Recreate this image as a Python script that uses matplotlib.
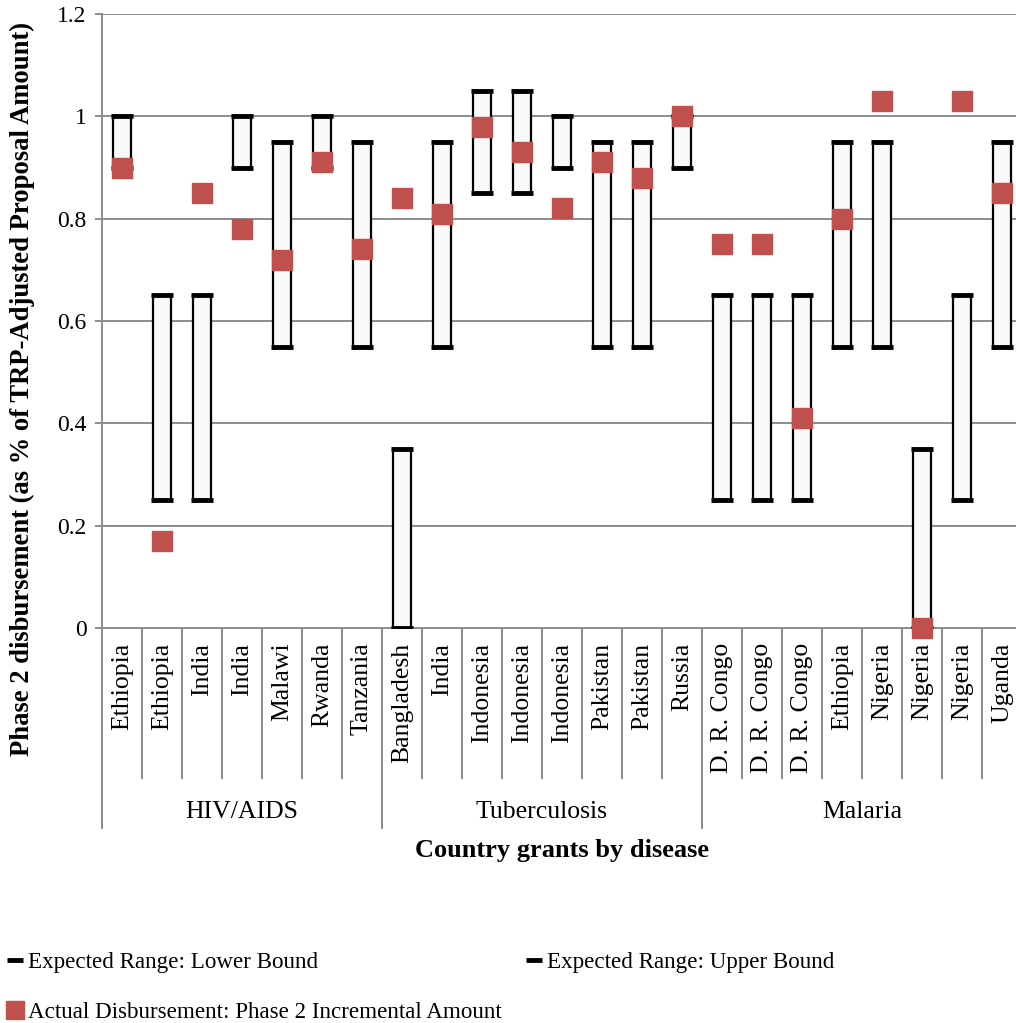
import matplotlib.pyplot as plt
from matplotlib.lines import Line2D
import numpy as np

plt.rcParams['font.family'] = ['Liberation Serif', 'DejaVu Serif']

diseases = ['HIV/AIDS', 'Tuberculosis', 'Malaria']
group_sizes = [7, 8, 8]
countries = ['Ethiopia', 'Ethiopia', 'India', 'India', 'Malawi', 'Rwanda', 'Tanzania',
             'Bangladesh', 'India', 'Indonesia', 'Indonesia', 'Indonesia', 'Pakistan', 'Pakistan', 'Russia',
             'D. R. Congo', 'D. R. Congo', 'D. R. Congo', 'Ethiopia', 'Nigeria', 'Nigeria', 'Nigeria', 'Uganda']
lower = [0.90, 0.25, 0.25, 0.90, 0.55, 0.90, 0.55,
         0.00, 0.55, 0.85, 0.85, 0.90, 0.55, 0.55, 0.90,
         0.25, 0.25, 0.25, 0.55, 0.55, 0.00, 0.25, 0.55]
upper = [1.00, 0.65, 0.65, 1.00, 0.95, 1.00, 0.95,
         0.35, 0.95, 1.05, 1.05, 1.00, 0.95, 0.95, 1.00,
         0.65, 0.65, 0.65, 0.95, 0.95, 0.35, 0.65, 0.95]
actual = [0.90, 0.17, 0.85, 0.78, 0.72, 0.91, 0.74,
          0.84, 0.81, 0.98, 0.93, 0.82, 0.91, 0.88, 1.00,
          0.75, 0.75, 0.41, 0.80, 1.03, 0.00, 1.03, 0.85]
yticks = [0, 0.2, 0.4, 0.6, 0.8, 1.0, 1.2]
ytick_labels = ['0', '0.2', '0.4', '0.6', '0.8', '1', '1.2']

W, H = 1016, 1023
fig = plt.figure(figsize=(W / 100, H / 100), dpi=100)
ax = fig.add_axes([102 / W, 1 - 628 / H, 920 / W, 614 / H])

x = np.arange(len(countries))
lo = np.array(lower)
hi = np.array(upper)
grid_col = '#8c8c8c'
red = '#c0504d'

ax.bar(x, hi - lo, bottom=lo, width=0.45, color='#f9f9f9', edgecolor='black',
       linewidth=1.6, zorder=3)
ax.plot(x, lower, linestyle='none', marker='_', color='black', ms=16, mew=3.5, zorder=4)
ax.plot(x, upper, linestyle='none', marker='_', color='black', ms=16, mew=3.5, zorder=4)
ax.plot(x, actual, linestyle='none', marker='s', color=red, ms=14.5, zorder=5,
        clip_on=False)

ax.set_xlim(-0.5, len(countries) - 0.5)
ax.set_ylim(0, 1.2)
ax.set_yticks(yticks)
ax.set_yticklabels(ytick_labels, fontsize=17)
ax.set_xticks([])
ax.grid(axis='y', color=grid_col, lw=1.4, zorder=0)
ax.set_axisbelow(True)
for s in ['top', 'right']:
    ax.spines[s].set_visible(False)
for s in ['left', 'bottom']:
    ax.spines[s].set_color(grid_col)
    ax.spines[s].set_linewidth(1.4)
ax.tick_params(axis='y', direction='out', length=5, width=1.4, color=grid_col, pad=6)

# category axis: country labels, separators, disease groups
tr = ax.get_xaxis_transform()
for i, name in enumerate(countries):
    ax.text(i, -0.024, name, transform=tr, rotation=90, ha='center', va='top', fontsize=18.5)

bounds = np.cumsum([0] + group_sizes)
for k in range(len(countries) + 1):
    depth = -0.326 if k in bounds else -0.244
    ax.plot([k - 0.5, k - 0.5], [0, depth], transform=tr, color=grid_col, lw=1.4,
            clip_on=False)
for g, name in enumerate(diseases):
    center = (bounds[g] + bounds[g + 1] - 1) / 2
    ax.text(center, -0.2997, name, transform=tr, ha='center', va='center', fontsize=18.5)

ax.text(0.5, -0.3616, 'Country grants by disease', transform=ax.transAxes,
        ha='center', va='center', fontsize=19, fontweight='bold')
fig.text(22 / W, 1 - 389 / H, 'Phase 2 disbursement (as % of TRP-Adjusted Proposal Amount)',
         rotation=90, ha='center', va='center', fontsize=19.2, fontweight='bold')

# legend entries
dash = Line2D([], [], linestyle='none', marker='_', color='black', ms=12, mew=3.5)
square = Line2D([], [], linestyle='none', marker='s', color=red, ms=13)
entries = [(dash, 'Expected Range: Lower Bound', 5, 962),
           (dash, 'Expected Range: Upper Bound', 524, 962),
           (square, 'Actual Disbursement: Phase 2 Incremental Amount', 5, 1012)]
for handle, label, px, py in entries:
    fig.legend([handle], [label], loc='center left', bbox_to_anchor=(px / W, 1 - py / H),
               frameon=False, fontsize=16.6, handlelength=0.9, handletextpad=0.1,
               borderaxespad=0, borderpad=0)

fig.savefig('out.png', dpi=100)
